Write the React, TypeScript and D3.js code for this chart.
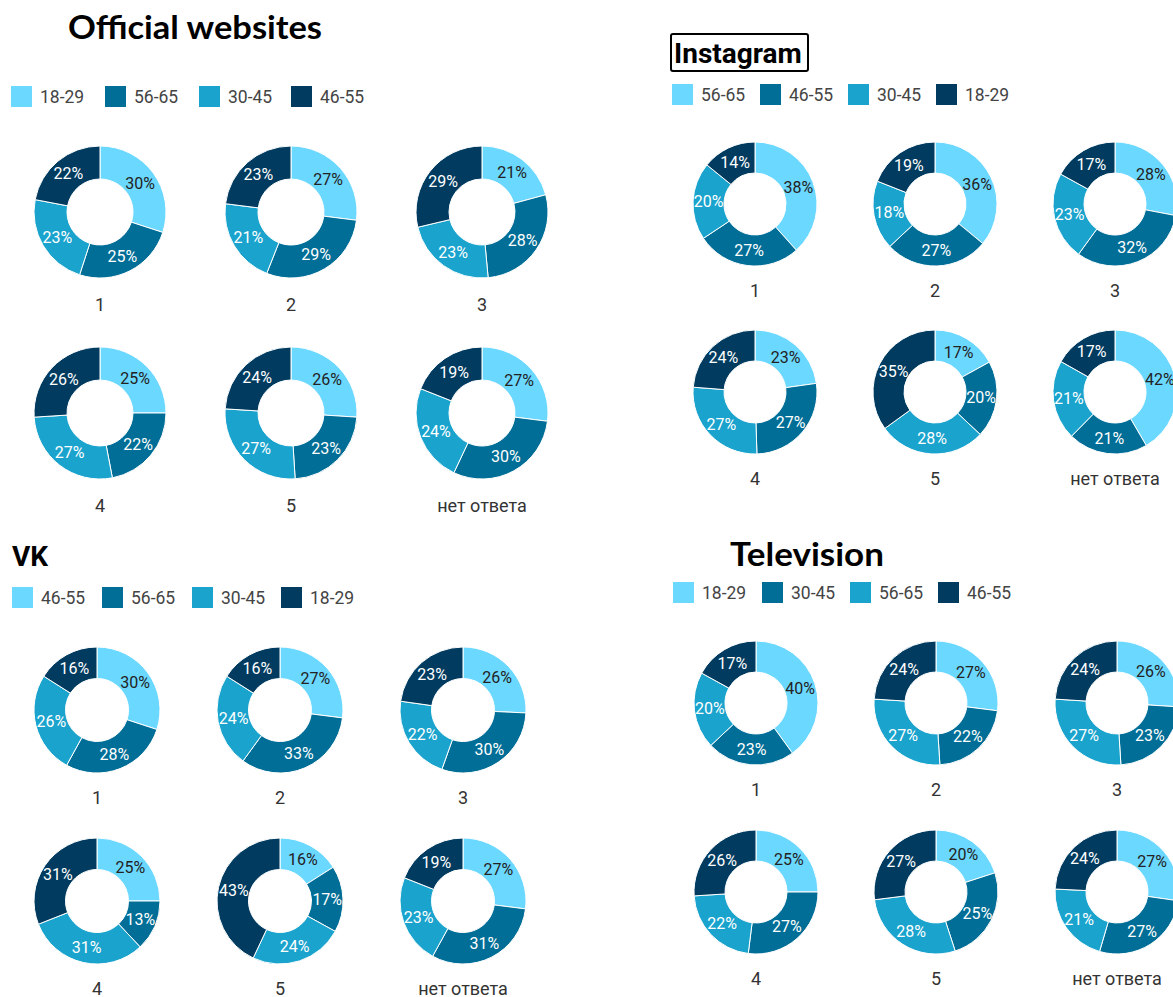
import { arc, pie, PieArcDatum } from "d3";

const width = 1173;
const height = 997;

const colours = ["#6bd8ff", "#006e96", "#19a3cd", "#013c60"];
const categories = ["1", "2", "3", "4", "5", "нет ответа"];

// Official websites
const webSeries = ["18-29", "56-65", "30-45", "46-55"];
const webValues = [
  [30, 25, 23, 22],
  [27, 29, 21, 23],
  [21, 28, 23, 29],
  [25, 22, 27, 26],
  [26, 23, 27, 24],
  [27, 30, 24, 19],
];

// Instagram
const instaSeries = ["56-65", "46-55", "30-45", "18-29"];
const instaValues = [
  [38, 27, 20, 14],
  [36, 27, 18, 19],
  [28, 32, 23, 17],
  [23, 27, 27, 24],
  [17, 20, 28, 35],
  [42, 21, 21, 17],
];

// VK
const vkSeries = ["46-55", "56-65", "30-45", "18-29"];
const vkValues = [
  [30, 28, 26, 16],
  [27, 33, 24, 16],
  [26, 30, 22, 23],
  [25, 13, 31, 31],
  [16, 17, 24, 43],
  [27, 31, 23, 19],
];

// Television
const tvSeries = ["18-29", "30-45", "56-65", "46-55"];
const tvValues = [
  [40, 23, 20, 17],
  [27, 22, 27, 24],
  [26, 23, 27, 24],
  [25, 27, 22, 26],
  [20, 25, 28, 27],
  [27, 27, 21, 24],
];

interface Layout {
  titleX: number;
  titleY: number;
  titleAnchor: "start" | "middle";
  titleFont: string;
  titleSize: number;
  titleLength?: number;
  boxed?: boolean;
  legendY: number;
  legendX: number[];
  cx: number[];
  cy: number[];
  r: number;
  labelGap: number;
}

const labelFont = "Roboto, 'Liberation Sans', sans-serif";

function Donut({ values, cx, cy, r }: { values: number[]; cx: number; cy: number; r: number }) {
  const slices = pie<number>().sort(null).value((d) => d)(values);
  const path = arc<PieArcDatum<number>>().innerRadius(r * 0.5).outerRadius(r);
  const total = values.reduce((a, b) => a + b, 0);
  return (
    <g transform={`translate(${cx},${cy})`}>
      {slices.map((s, i) => (
        <path key={i} d={path(s) || ""} fill={colours[i]} stroke="#fff" strokeWidth={1} />
      ))}
      {slices.map((s, i) => {
        const [x, y] = path.centroid(s);
        return (
          <text
            key={"t" + i}
            x={x}
            y={y}
            dy="0.35em"
            textAnchor="middle"
            fontFamily={labelFont}
            fontSize={16}
            fill={i === 0 ? "#222" : "#fff"}
          >
            {Math.round((s.data / total) * 100)}%
          </text>
        );
      })}
    </g>
  );
}

function Panel({ title, series, values, layout }: { title: string; series: string[]; values: number[][]; layout: Layout }) {
  const L = layout;
  return (
    <g>
      {L.boxed && (
        <rect x={L.titleX - 1} y={L.titleY - 29} width={137} height={37} rx={2} fill="none" stroke="#000" strokeWidth={2} />
      )}
      <text
        x={L.titleX + (L.boxed ? 2 : 0)}
        y={L.titleY}
        textAnchor={L.titleAnchor}
        fontFamily={L.titleFont}
        fontWeight="bold"
        fontSize={L.titleSize}
        textLength={L.titleLength}
        lengthAdjust="spacingAndGlyphs"
        fill="#000"
      >
        {title}
      </text>
      {series.map((s, i) => (
        <g key={s} transform={`translate(${L.legendX[i]},${L.legendY})`}>
          <rect x={0} y={-11} width={21} height={21} fill={colours[i]} />
          <text x={29} y={0} dy="0.35em" fontFamily={labelFont} fontSize={17.5} fill="#444">
            {s}
          </text>
        </g>
      ))}
      {values.map((v, i) => {
        const x = L.cx[i % 3];
        const y = L.cy[Math.floor(i / 3)];
        return (
          <g key={i}>
            <Donut values={v} cx={x} cy={y} r={L.r} />
            <text
              x={x}
              y={y + L.r + L.labelGap}
              dy="0.35em"
              textAnchor="middle"
              fontFamily={labelFont}
              fontSize={18}
              fill="#333"
            >
              {categories[i]}
            </text>
          </g>
        );
      })}
    </g>
  );
}

const webLayout: Layout = {
  titleX: 195, titleY: 39, titleAnchor: "middle", titleFont: "Lato, 'Open Sans', sans-serif", titleSize: 32, titleLength: 254,
  legendY: 97, legendX: [11, 105, 199, 291], cx: [100, 291, 482], cy: [212, 413], r: 66, labelGap: 27,
};
const instaLayout: Layout = {
  titleX: 672, titleY: 63, titleAnchor: "start", titleFont: "Roboto, sans-serif", titleSize: 28, boxed: true,
  legendY: 95, legendX: [672, 760, 848, 936], cx: [755, 935, 1115], cy: [204, 392], r: 62, labelGap: 25,
};
const vkLayout: Layout = {
  titleX: 12, titleY: 566, titleAnchor: "start", titleFont: "Roboto, sans-serif", titleSize: 28,
  legendY: 598, legendX: [12, 102, 192, 281], cx: [97, 280, 463], cy: [710, 901], r: 63, labelGap: 25,
};
const tvLayout: Layout = {
  titleX: 807, titleY: 566, titleAnchor: "middle", titleFont: "Lato, 'Open Sans', sans-serif", titleSize: 32, titleLength: 154,
  legendY: 593, legendX: [673, 762, 850, 938], cx: [756, 936, 1117], cy: [703, 892], r: 62, labelGap: 25,
};

export default function App() {
  return (
    <svg
      width={width}
      height={height}
      style={{ position: "absolute", left: 0, top: 0, background: "#fff" }}
    >
      <Panel title="Official websites" series={webSeries} values={webValues} layout={webLayout} />
      <Panel title="Instagram" series={instaSeries} values={instaValues} layout={instaLayout} />
      <Panel title="VK" series={vkSeries} values={vkValues} layout={vkLayout} />
      <Panel title="Television" series={tvSeries} values={tvValues} layout={tvLayout} />
    </svg>
  );
}
